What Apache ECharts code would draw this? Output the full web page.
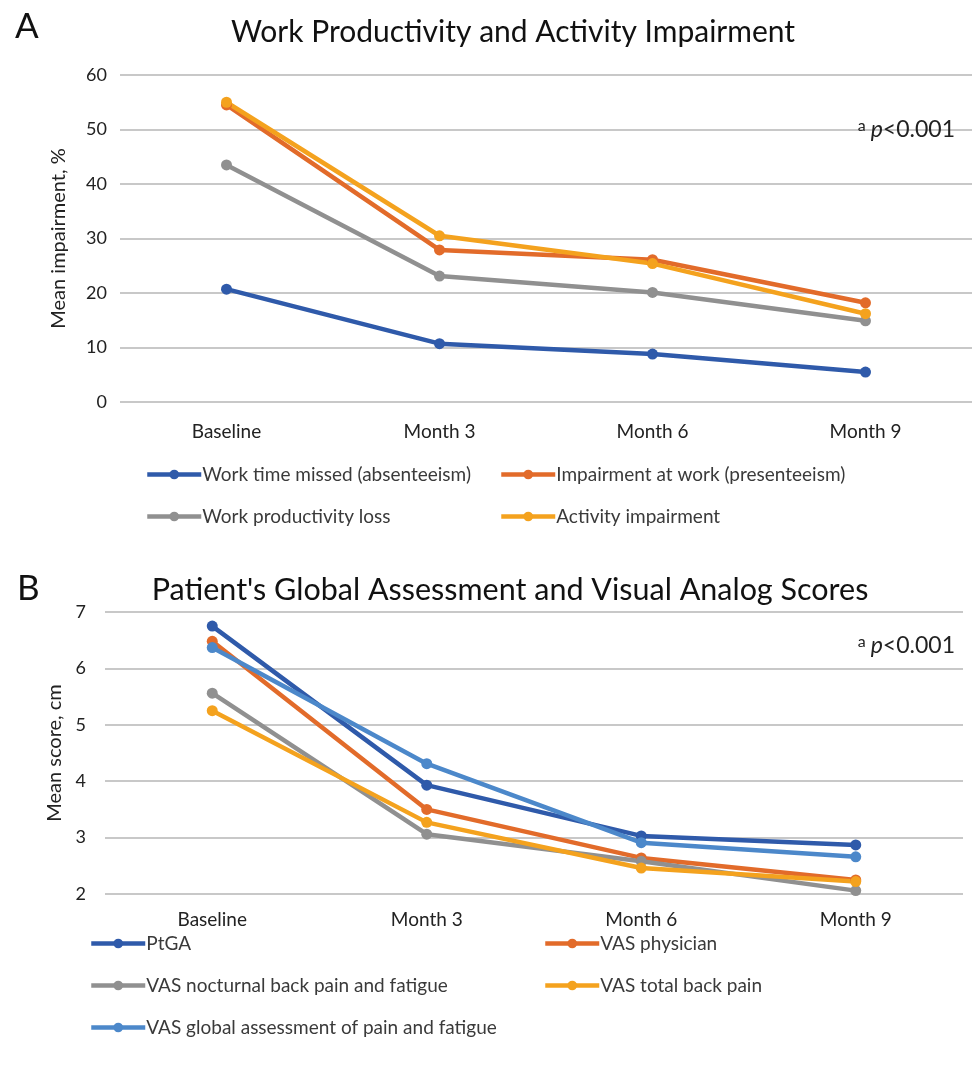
<!DOCTYPE html>
<html>
<head>
<meta charset="utf-8">
<script src="https://cdn.jsdelivr.net/npm/echarts@6/dist/echarts.min.js"></script>
<style>
  html, body {margin: 0; padding: 0; background: #fff;}
  #chart {width: 976px; height: 1066px;}
</style>
</head>
<body>
<div id="chart"></div>
<script>
// 时间点
const visits = ['Baseline', 'Month 3', 'Month 6', 'Month 9'];

// A: Work Productivity and Activity Impairment (%)
const absenteeism = [20.7, 10.7, 8.8, 5.5];
const presenteeism = [54.5, 27.9, 26.1, 18.2];
const productivityLoss = [43.5, 23.1, 20.1, 14.9];
const activityImpairment = [55.0, 30.5, 25.4, 16.2];
const ticksA = {min: 0, max: 60, interval: 10};

// B: Patient's Global Assessment and VAS (cm)
const ptga = [6.75, 3.93, 3.03, 2.87];
const vasPhysician = [6.48, 3.5, 2.64, 2.25];
const vasNocturnal = [5.56, 3.06, 2.58, 2.06];
const vasTotalBack = [5.25, 3.27, 2.46, 2.22];
const vasGlobal = [6.37, 4.31, 2.91, 2.66];
const ticksB = {min: 2, max: 7, interval: 1};

const FONT = 'Lato';
const C_BLUE = '#2F5AAA', C_ORANGE = '#E26B2A', C_GRAY = '#909090', C_YELLOW = '#F4A21E', C_LBLUE = '#4C88CA';

function lineSeries(name, data, color, idx) {
  return {
    name: name,
    type: 'line',
    xAxisIndex: idx,
    yAxisIndex: idx,
    data: data,
    symbol: 'circle',
    symbolSize: 11,
    lineStyle: {width: 4.5, color: color},
    itemStyle: {color: color},
    emphasis: {disabled: true},
  };
}

function catAxis(idx, margin) {
  return {
    type: 'category',
    gridIndex: idx,
    data: visits,
    boundaryGap: true,
    axisLine: {show: false},
    axisTick: {show: false},
    axisLabel: {color: '#222', fontSize: 19, fontFamily: FONT, margin: margin},
  };
}

function valAxis(idx, t, name, gap, margin) {
  return {
    type: 'value',
    gridIndex: idx,
    min: t.min,
    max: t.max,
    interval: t.interval,
    name: name,
    nameLocation: 'middle',
    nameGap: gap,
    nameTextStyle: {color: '#222', fontSize: 20, fontFamily: FONT},
    axisLine: {show: false},
    axisTick: {show: false},
    axisLabel: {color: '#222', fontSize: 18, fontFamily: FONT, margin: margin},
    splitLine: {lineStyle: {color: '#c8c8c8', width: 2}},
  };
}

const pRich = {
  s: {fontSize: 16, fontFamily: FONT, color: '#222', fontWeight: 'normal', verticalAlign: 'top', padding: [0, 5, 8, 0]},
  i: {fontSize: 23, fontFamily: FONT, color: '#222', fontWeight: 'normal', fontStyle: 'italic'},
  n: {fontSize: 23, fontFamily: FONT, color: '#222', fontWeight: 'normal'},
};

// 每个图例单独放置，位置对照原图
function legendItem(name, left, top) {
  return {
    data: [name],
    left: left,
    top: top,
    itemWidth: 54,
    itemHeight: 12,
    itemGap: 0,
    selectedMode: false,
    lineStyle: {width: 4.5},
    textStyle: {color: '#3a3a3a', fontSize: 19, fontFamily: FONT, padding: [0, 0, 0, -4]},
  };
}

const chart = echarts.init(document.getElementById('chart'));
chart.setOption({
  animation: false,
  backgroundColor: '#fff',
  title: [
    {text: 'A', left: 10, top: 4, textStyle: {fontSize: 35, fontWeight: 'normal', color: '#111', fontFamily: FONT}},
    {text: 'Work Productivity and Activity Impairment', left: 508, textAlign: 'center', top: 12,
      textStyle: {fontSize: 30, fontWeight: 'normal', color: '#111', fontFamily: FONT}},
    {text: '{s|a}{i|p}{n|<0.001}', right: 16, top: 113, textStyle: {rich: pRich}},
    {text: 'B', left: 12, top: 566, textStyle: {fontSize: 35, fontWeight: 'normal', color: '#111', fontFamily: FONT}},
    {text: "Patient's Global Assessment and Visual Analog Scores", left: 505, textAlign: 'center', top: 570,
      textStyle: {fontSize: 30.5, fontWeight: 'normal', color: '#111', fontFamily: FONT}},
    {text: '{s|a}{i|p}{n|<0.001}', right: 16, top: 629, textStyle: {rich: pRich}},
  ],
  legend: [
    legendItem('Work time missed (absenteeism)', 140, 460),
    legendItem('Impairment at work (presenteeism)', 494, 460),
    legendItem('Work productivity loss', 140, 502),
    legendItem('Activity impairment', 494, 502),
    legendItem('PtGA', 84, 929),
    legendItem('VAS physician', 538, 929),
    legendItem('VAS nocturnal back pain and fatigue', 84, 971),
    legendItem('VAS total back pain', 538, 971),
    legendItem('VAS global assessment of pain and fatigue', 84, 1013),
  ],
  grid: [
    {left: 120, right: 4, top: 75, height: 327},
    {left: 105, right: 13, top: 612, height: 282},
  ],
  xAxis: [catAxis(0, 20), catAxis(1, 16)],
  yAxis: [
    valAxis(0, ticksA, 'Mean impairment, %', 51, 13),
    valAxis(1, ticksB, 'Mean score, cm', 39, 19),
  ],
  series: [
    lineSeries('Work time missed (absenteeism)', absenteeism, C_BLUE, 0),
    lineSeries('Impairment at work (presenteeism)', presenteeism, C_ORANGE, 0),
    lineSeries('Work productivity loss', productivityLoss, C_GRAY, 0),
    lineSeries('Activity impairment', activityImpairment, C_YELLOW, 0),
    lineSeries('PtGA', ptga, C_BLUE, 1),
    lineSeries('VAS physician', vasPhysician, C_ORANGE, 1),
    lineSeries('VAS nocturnal back pain and fatigue', vasNocturnal, C_GRAY, 1),
    lineSeries('VAS total back pain', vasTotalBack, C_YELLOW, 1),
    lineSeries('VAS global assessment of pain and fatigue', vasGlobal, C_LBLUE, 1),
  ],
});
</script>
</body>
</html>
